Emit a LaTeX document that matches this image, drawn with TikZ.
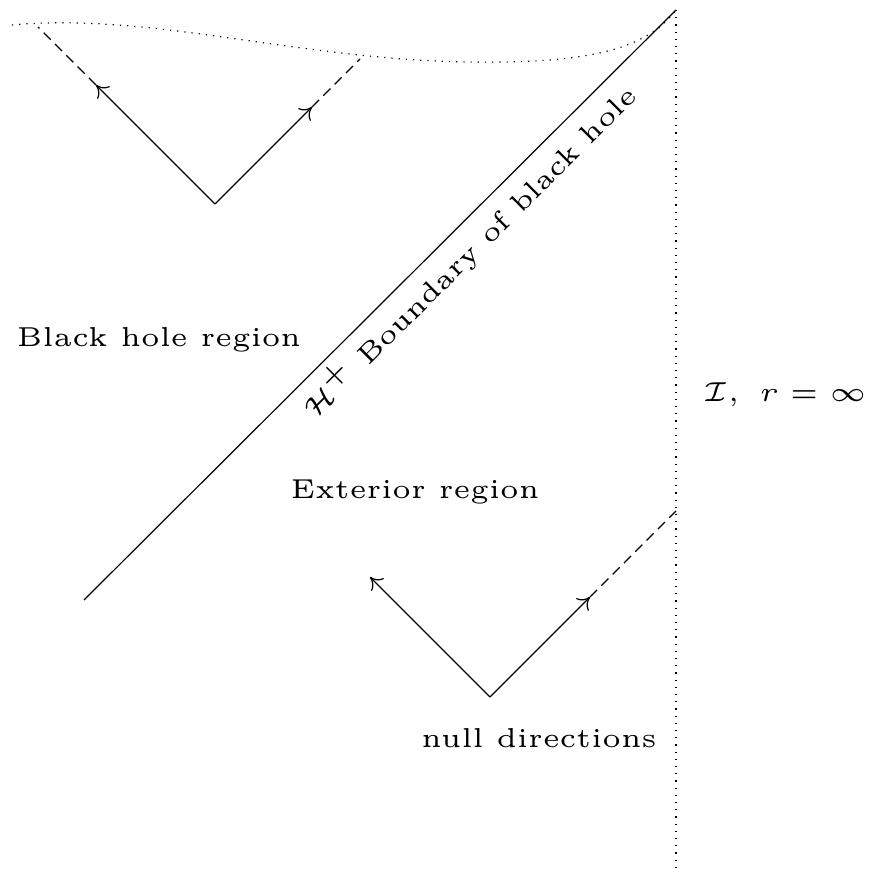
\documentclass[tikz,border=0pt]{standalone}
\usepackage{amsmath,amssymb}
\usetikzlibrary{arrows,arrows.meta,calc}

\tikzset{
  lbl/.style={font=\tiny,scale=1.37},
  null/.style={-{To[length=2.8pt,width=4.4pt]}},
  nulldash/.style={dash pattern=on 2.5pt off 1.5pt},
  bdry/.style={dash pattern=on 0.3pt off 1.5pt}
}

\begin{document}
\begin{tikzpicture}[x=0.25pt,y=-0.25pt,line width=0.3pt]
\useasboundingbox (0,0) rectangle (868,874);
    % Points of the diagram
\coordinate (hbot) at (84,600);
\coordinate (itop) at (676,10);
\coordinate (ibot) at (676,874);
\coordinate (sl) at (12,25);
\coordinate (smid) at (470,62);
    % Horizon and infinity
\draw (hbot) -- node[lbl,sloped,below,pos=0.62,inner sep=1pt] (hlbl) {$\mathcal{H}^+$ Boundary of black hole} (itop);
\draw[bdry] (itop) -- (ibot);
\draw[bdry] (sl) .. controls (150,12) and (300,60) .. (smid) .. controls (600,64) and (650,45) .. (itop);
    % Null directions inside the black hole
\coordinate (apexa) at (215,204);
\coordinate (arrla) at (96,85);
\coordinate (endla) at (38,27);
\coordinate (arrra) at (312,107);
\coordinate (endra) at (360,59);
\draw[null] (apexa) -- (arrla);
\draw[nulldash] (arrla) -- (endla);
\draw[null] (apexa) -- (arrra);
\draw[nulldash] (arrra) -- (endra);
    % Null directions outside
\coordinate (apexb) at (490,697);
\coordinate (endlb) at (370,577);
\coordinate (arrrb) at (590,597);
\coordinate (endrb) at (676,511);
\draw[null] (apexb) -- (endlb);
\draw[null] (apexb) -- (arrrb);
\draw[nulldash] (arrrb) -- (endrb);
    % Labels
\node[lbl] (bhr) at (159,340) {Black hole region};
\node[lbl] (ext) at (415,492) {Exterior region};
\node[lbl] (nulld) at (539,738) {null directions};
\node[lbl] (scri) at (785,395) {$\mathcal{I},\ r=\infty$};
\end{tikzpicture}
\end{document}
